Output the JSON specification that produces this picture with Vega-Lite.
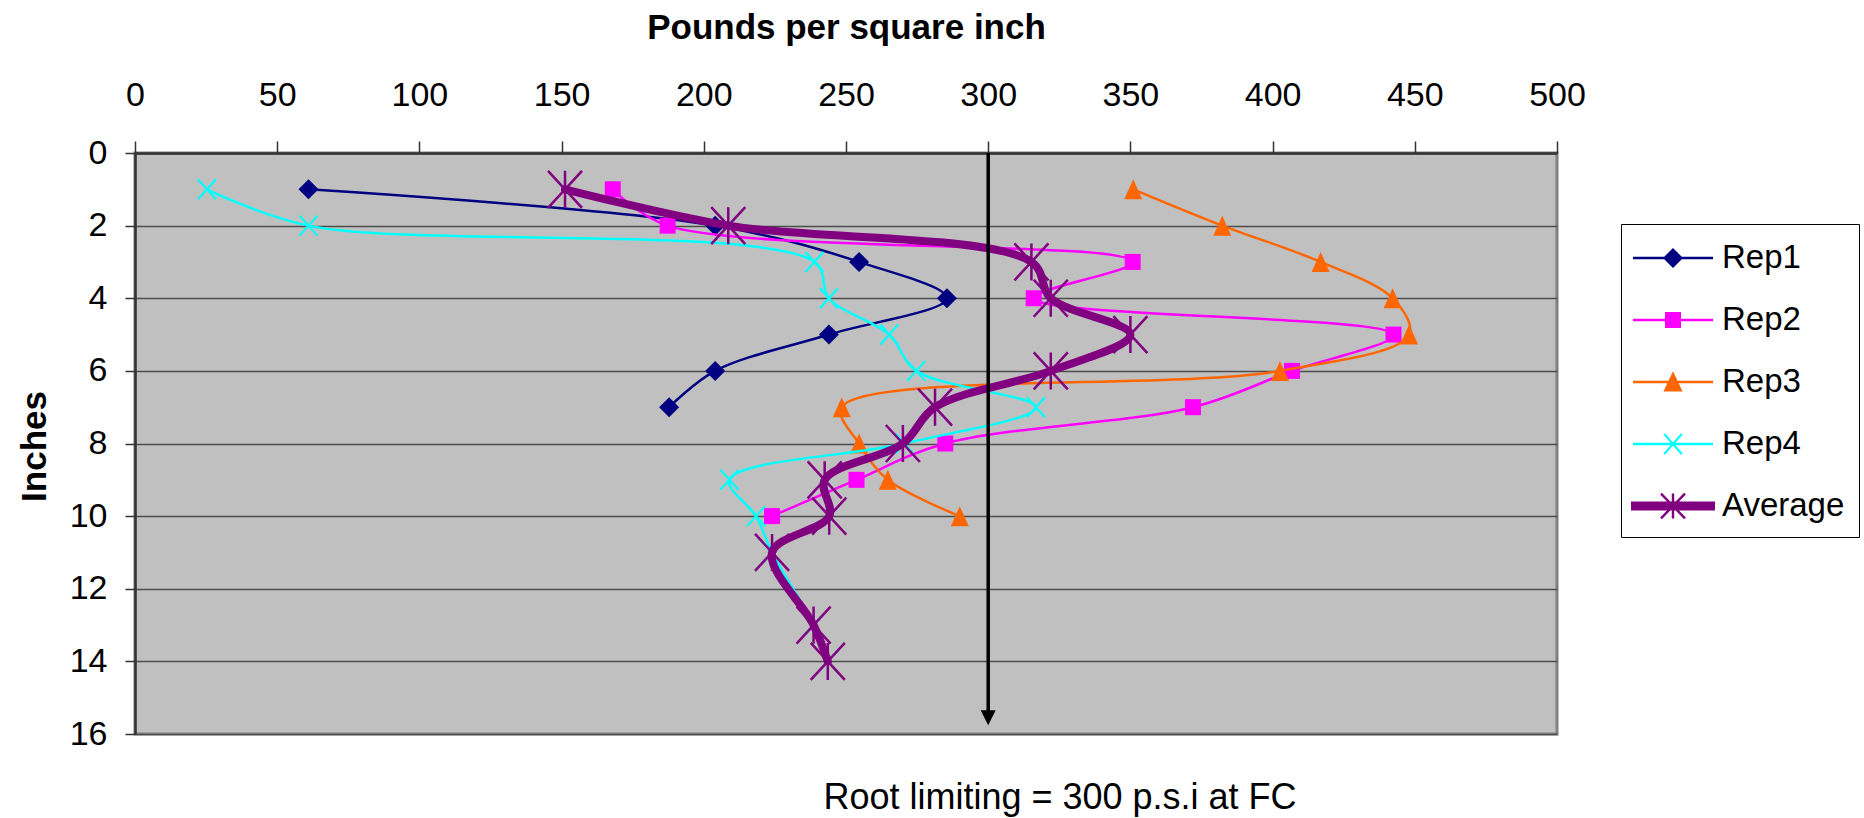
{
  "$schema": "https://vega.github.io/schema/vega-lite/v6.json",
  "width": 1422,
  "height": 581,
  "autosize": {"type": "none"},
  "padding": {"left": 135, "top": 153, "right": 307, "bottom": 84},
  "background": "white",
  "title": {
    "text": "Root limiting = 300 p.s.i at FC",
    "orient": "bottom",
    "anchor": "middle",
    "frame": "group",
    "offset": 30,
    "dx": 214,
    "fontSize": 36,
    "fontWeight": "normal",
    "font": "Liberation Sans",
    "color": "black"
  },
  "config": {
    "font": "Liberation Sans",
    "view": {"fill": "#C0C0C0", "stroke": "#808080", "strokeWidth": 3},
    "legend": {
      "orient": "none",
      "legendX": 1486,
      "legendY": 71,
      "padding": 14,
      "fillColor": "white",
      "strokeColor": "black",
      "symbolOffset": 18,
      "labelOffset": 29,
      "rowPadding": 25,
      "symbolSize": 1600,
      "symbolStrokeWidth": 0,
      "symbolOpacity": 1,
      "labelFontSize": 33,
      "labelFont": "Liberation Sans",
      "labelColor": "black",
      "labelLimit": 0
    }
  },
  "datasets": {
    "profiles": [
      {"series": "Rep1", "depth": 1, "psi": 61},
      {"series": "Rep1", "depth": 2, "psi": 204},
      {"series": "Rep1", "depth": 3, "psi": 254.6},
      {"series": "Rep1", "depth": 4, "psi": 285.5},
      {"series": "Rep1", "depth": 5, "psi": 244},
      {"series": "Rep1", "depth": 6, "psi": 204},
      {"series": "Rep1", "depth": 7, "psi": 187.8},
      {"series": "Rep2", "depth": 1, "psi": 168},
      {"series": "Rep2", "depth": 2, "psi": 187.3},
      {"series": "Rep2", "depth": 3, "psi": 350.8},
      {"series": "Rep2", "depth": 4, "psi": 316},
      {"series": "Rep2", "depth": 5, "psi": 442.5},
      {"series": "Rep2", "depth": 6, "psi": 406.8},
      {"series": "Rep2", "depth": 7, "psi": 372},
      {"series": "Rep2", "depth": 8, "psi": 284.9},
      {"series": "Rep2", "depth": 9, "psi": 253.7},
      {"series": "Rep2", "depth": 10, "psi": 224},
      {"series": "Rep3", "depth": 1, "psi": 351},
      {"series": "Rep3", "depth": 2, "psi": 382.3},
      {"series": "Rep3", "depth": 3, "psi": 416.9},
      {"series": "Rep3", "depth": 4, "psi": 442.2},
      {"series": "Rep3", "depth": 5, "psi": 448},
      {"series": "Rep3", "depth": 6, "psi": 402.6},
      {"series": "Rep3", "depth": 7, "psi": 248.5},
      {"series": "Rep3", "depth": 8, "psi": 254.6},
      {"series": "Rep3", "depth": 9, "psi": 264.7},
      {"series": "Rep3", "depth": 10, "psi": 290},
      {"series": "Rep4", "depth": 1, "psi": 25.3},
      {"series": "Rep4", "depth": 2, "psi": 61},
      {"series": "Rep4", "depth": 3, "psi": 238.9},
      {"series": "Rep4", "depth": 4, "psi": 244},
      {"series": "Rep4", "depth": 5, "psi": 265.2},
      {"series": "Rep4", "depth": 6, "psi": 274.7},
      {"series": "Rep4", "depth": 7, "psi": 316.8},
      {"series": "Rep4", "depth": 8, "psi": 270.5},
      {"series": "Rep4", "depth": 9, "psi": 209},
      {"series": "Rep4", "depth": 10, "psi": 218.4},
      {"series": "Rep4", "depth": 11, "psi": 224},
      {"series": "Rep4", "depth": 13, "psi": 238.6},
      {"series": "Rep4", "depth": 14, "psi": 243.6},
      {"series": "Average", "depth": 1, "psi": 151.2},
      {"series": "Average", "depth": 2, "psi": 208.6},
      {"series": "Average", "depth": 3, "psi": 315.2},
      {"series": "Average", "depth": 4, "psi": 322},
      {"series": "Average", "depth": 5, "psi": 350},
      {"series": "Average", "depth": 6, "psi": 322},
      {"series": "Average", "depth": 7, "psi": 281.3},
      {"series": "Average", "depth": 8, "psi": 270},
      {"series": "Average", "depth": 9, "psi": 242.5},
      {"series": "Average", "depth": 10, "psi": 244.1},
      {"series": "Average", "depth": 11, "psi": 224},
      {"series": "Average", "depth": 13, "psi": 238.6},
      {"series": "Average", "depth": 14, "psi": 243.6}
    ],
    "arrow": [{"psi": 300, "top": 0, "shaft": 15.4, "tip": 15.76}]
  },
  "encoding": {
    "x": {"field": "psi", "type": "quantitative"},
    "y": {"field": "depth", "type": "quantitative"}
  },
  "layer": [
    {
      "data": {"name": "profiles"},
      "transform": [{"filter": "datum.series === 'Rep1'"}],
      "mark": {"type": "line", "interpolate": "catmull-rom", "strokeWidth": 2.5, "strokeJoin": "round", "color": "#000080"},
      "encoding": {
        "x": {
          "field": "psi", "type": "quantitative",
          "scale": {"domain": [0, 500], "nice": false, "zero": true},
          "axis": {
            "orient": "top",
            "values": [0, 50, 100, 150, 200, 250, 300, 350, 400, 450, 500],
            "grid": false,
            "tickSize": 12, "tickColor": "#333333", "tickWidth": 1.5,
            "domainColor": "#333333", "domainWidth": 2.5,
            "labelFontSize": 34, "labelPadding": 29, "labelFlush": false, "labelOverlap": false,
            "labelColor": "black", "labelFont": "Liberation Sans",
            "title": "Pounds per square inch",
            "titleFontSize": 35, "titleFontWeight": "bold", "titleColor": "black", "titleFont": "Liberation Sans",
            "titleX": 711, "titleY": -115, "titleBaseline": "alphabetic", "titleAlign": "center"
          }
        },
        "y": {
          "field": "depth", "type": "quantitative",
          "scale": {"domain": [0, 16], "nice": false, "reverse": true},
          "axis": {
            "orient": "left",
            "values": [0, 2, 4, 6, 8, 10, 12, 14, 16],
            "grid": true, "gridColor": "#4d4d4d", "gridWidth": 1.5,
            "tickSize": 10, "tickColor": "#333333", "tickWidth": 1.5,
            "domainColor": "#333333", "domainWidth": 2.5,
            "labelFontSize": 34, "labelPadding": 18, "labelFlush": false, "labelOverlap": false,
            "labelColor": "black", "labelFont": "Liberation Sans",
            "title": "Inches",
            "titleFontSize": 35, "titleFontWeight": "bold", "titleColor": "black", "titleFont": "Liberation Sans",
            "titleAngle": -90, "titleX": -90, "titleY": 293, "titleBaseline": "alphabetic", "titleAlign": "center"
          }
        },
        "order": {"field": "depth", "type": "quantitative"}
      }
    },
    {
      "data": {"name": "profiles"},
      "transform": [{"filter": "datum.series === 'Rep1'"}],
      "mark": {"type": "point", "shape": "diamond", "size": 400, "filled": true, "color": "#000080", "opacity": 1}
    },
    {
      "data": {"name": "profiles"},
      "transform": [{"filter": "datum.series === 'Rep2'"}],
      "mark": {"type": "line", "interpolate": "catmull-rom", "strokeWidth": 2.5, "strokeJoin": "round", "color": "#FF00FF"},
      "encoding": {"order": {"field": "depth", "type": "quantitative"}}
    },
    {
      "data": {"name": "profiles"},
      "transform": [{"filter": "datum.series === 'Rep2'"}],
      "mark": {"type": "point", "shape": "square", "size": 256, "filled": true, "color": "#FF00FF", "opacity": 1}
    },
    {
      "data": {"name": "profiles"},
      "transform": [{"filter": "datum.series === 'Rep3'"}],
      "mark": {"type": "line", "interpolate": "catmull-rom", "strokeWidth": 2.5, "strokeJoin": "round", "color": "#FF6600"},
      "encoding": {"order": {"field": "depth", "type": "quantitative"}}
    },
    {
      "data": {"name": "profiles"},
      "transform": [{"filter": "datum.series === 'Rep3'"}],
      "mark": {"type": "point", "shape": "M0,-1 L0.9,1 L-0.9,1 Z", "size": 400, "filled": true, "color": "#FF6600", "opacity": 1}
    },
    {
      "data": {"name": "profiles"},
      "transform": [{"filter": "datum.series === 'Rep4'"}],
      "mark": {"type": "line", "interpolate": "catmull-rom", "strokeWidth": 2.5, "strokeJoin": "round", "color": "#00FFFF"},
      "encoding": {"order": {"field": "depth", "type": "quantitative"}}
    },
    {
      "data": {"name": "profiles"},
      "transform": [{"filter": "datum.series === 'Rep4'"}],
      "mark": {"type": "point", "shape": "M-0.9,-1 L0.9,1 M0.9,-1 L-0.9,1", "size": 400, "filled": false, "color": "#00FFFF", "strokeWidth": 2.2, "opacity": 1}
    },
    {
      "data": {"name": "profiles"},
      "transform": [{"filter": "datum.series === 'Average'"}],
      "mark": {"type": "line", "interpolate": "catmull-rom", "strokeWidth": 8, "strokeJoin": "round", "strokeCap": "round", "color": "#800080"},
      "encoding": {"order": {"field": "depth", "type": "quantitative"}}
    },
    {
      "data": {"name": "profiles"},
      "transform": [{"filter": "datum.series === 'Average'"}],
      "mark": {"type": "point", "shape": "M0,-1 L0,1 M-0.92,-1 L0.92,1 M0.92,-1 L-0.92,1", "size": 1369, "filled": false, "color": "#800080", "strokeWidth": 2.5, "opacity": 1}
    },
    {
      "data": {"name": "arrow"},
      "mark": {"type": "rule", "color": "black", "strokeWidth": 3.5},
      "encoding": {
        "x": {"field": "psi", "type": "quantitative"},
        "y": {"field": "top", "type": "quantitative"},
        "y2": {"field": "shaft"}
      }
    },
    {
      "data": {"name": "arrow"},
      "mark": {"type": "point", "shape": "M-1,-2 L1,-2 L0,0 Z", "size": 225, "filled": true, "color": "black", "opacity": 1},
      "encoding": {
        "x": {"field": "psi", "type": "quantitative"},
        "y": {"field": "tip", "type": "quantitative"}
      }
    },
    {
      "data": {"name": "profiles"},
      "transform": [{"filter": "datum.depth < 0"}],
      "mark": {"type": "point", "filled": true, "opacity": 1},
      "encoding": {
        "color": {
          "field": "series", "type": "nominal",
          "scale": {"domain": ["Rep1", "Rep2", "Rep3", "Rep4", "Average"], "range": ["#000080", "#FF00FF", "#FF6600", "#00FFFF", "#800080"]},
          "legend": {"title": null}
        },
        "shape": {
          "field": "series", "type": "nominal",
          "scale": {
            "domain": ["Rep1", "Rep2", "Rep3", "Rep4", "Average"],
            "range": [
              "M-2,-0.06 L2,-0.06 L2,0.06 L-2,0.06 Z M0,-0.5 L0.5,0 L0,0.5 L-0.5,0 Z",
              "M-2,-0.06 L2,-0.06 L2,0.06 L-2,0.06 Z M-0.4,-0.4 L0.4,-0.4 L0.4,0.4 L-0.4,0.4 Z",
              "M-2,-0.06 L2,-0.06 L2,0.06 L-2,0.06 Z M0,-0.54 L0.48,0.48 L-0.48,0.48 Z",
              "M-2,-0.06 L2,-0.06 L2,0.06 L-2,0.06 Z M-0.4024,-0.533 L0.4776,0.467 L0.4024,0.533 L-0.4776,-0.467 Z M0.4776,-0.467 L-0.4024,0.533 L-0.4776,0.467 L0.4024,-0.533 Z",
              "M-2.1,-0.22 L2.1,-0.22 L2.1,0.22 L-2.1,0.22 Z M-0.06,-0.62 L0.06,-0.62 L0.06,0.62 L-0.06,0.62 Z M-0.557,-0.6618 L0.643,0.5782 L0.557,0.6618 L-0.643,-0.5782 Z M0.643,-0.5782 L-0.557,0.6618 L-0.643,0.5782 L0.557,-0.6618 Z"
            ]
          },
          "legend": {"title": null}
        }
      }
    }
  ]
}
